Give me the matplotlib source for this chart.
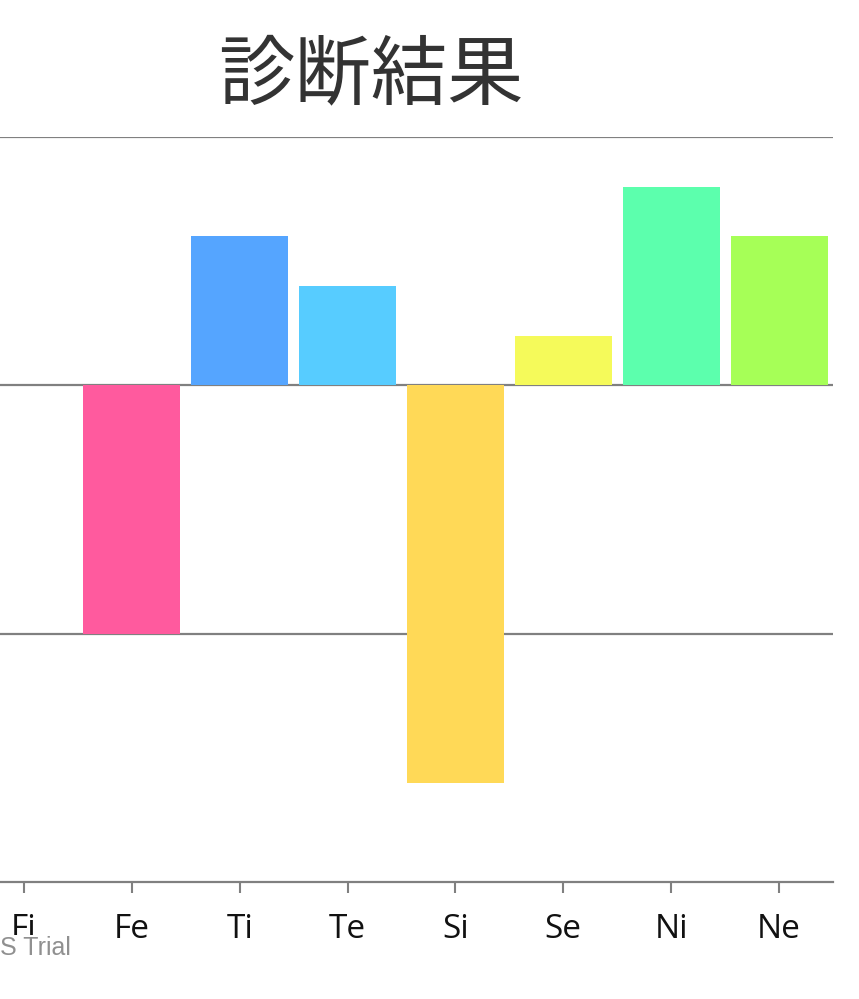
import matplotlib.pyplot as plt

plt.rcParams['font.family'] = ['Noto Sans CJK JP', 'DejaVu Sans']

categories = ['Fi', 'Fe', 'Ti', 'Te', 'Si', 'Se', 'Ni', 'Ne']
values = [0, -10, 6, 4, -16, 2, 8, 6]
colors = ['#B05AFF', '#FF5A9E', '#55A5FF', '#57CCFF', '#FFD957', '#F5FA5A', '#5CFFAD', '#A6FF57']
grid_vals = [10, 0, -10]

fig = plt.figure(figsize=(8.59, 9.99), dpi=100)
# left edge of the chart is cut off in the reference
ax = fig.add_axes([-30 / 859, 1 - 882 / 999, 863 / 859, 745 / 999])

x = range(len(categories))
ax.bar(x, values, width=0.9, color=colors, zorder=2)

for g in grid_vals:
    ax.axhline(g, color='#808080', lw=1.6, zorder=1)

ax.set_xlim(-0.5, 7.5)
ax.set_ylim(-20, 10)
ax.set_xticks(list(x))
ax.set_xticklabels(categories, fontsize=24, color='#111111', family=['Open Sans', 'DejaVu Sans'])
ax.tick_params(axis='x', length=8, width=1.5, color='#808080', pad=14)
ax.set_yticks([])
for s in ['top', 'left', 'right']:
    ax.spines[s].set_visible(False)
ax.spines['bottom'].set_color('#808080')
ax.spines['bottom'].set_linewidth(1.6)

fig.text(371 / 859, 1 - 77 / 999, '診断結果', ha='center', va='center',
         fontsize=55, color='#333333')

# trial watermark, partly cut at the left edge, covering the bottom of "Fi"
fig.text(0, 1 - 948 / 999, 'S Trial', ha='left', va='center',
         fontsize=18, color='#909090', family=['Liberation Sans', 'DejaVu Sans'],
         bbox=dict(facecolor='white', edgecolor='none', pad=1), zorder=10)

fig.savefig('out.png', dpi=100)
